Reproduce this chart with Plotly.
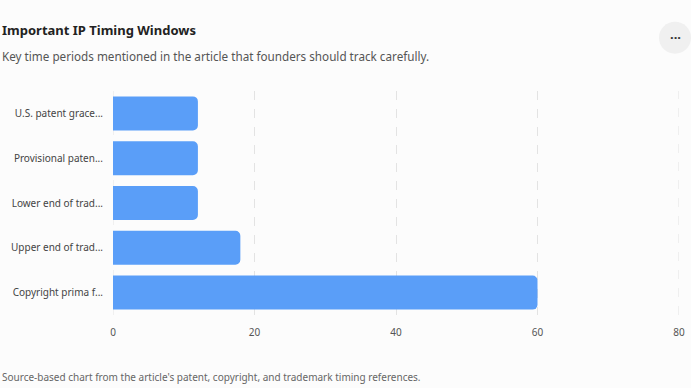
import plotly.graph_objects as go

categories = ["U.S. patent grace...", "Provisional paten...", "Lower end of trad...",
              "Upper end of trad...", "Copyright prima f..."]
values = [12, 12, 12, 18, 60]
x_ticks = [0, 20, 40, 60, 80]

W, H = 691, 388
L, R, T, B = 113, 12, 90.5, 72.5
pw, ph = W - L - R, H - T - B

def px(x):
    return (x - L) / pw

def py(y):
    return 1 - (y - T) / ph

FONT = "Noto Sans"
GRID = "#e3e3e3"

fig = go.Figure(go.Bar(
    x=values, y=categories, orientation="h",
    marker=dict(color="#5a9ef8", line=dict(width=0)),
    width=0.76, hoverinfo="x+y",
))

# edge gridlines (plotly clips gridlines lying on the plot edges)
edge_grid = [dict(type="line", xref="x", yref="paper", x0=v, x1=v, y0=0, y1=1,
                  line=dict(color=GRID, width=1, dash="dash"), layer="below")
             for v in (x_ticks[0], x_ticks[-1])]

fig.update_layout(
    width=W, height=H,
    margin=dict(l=L, r=R, t=T, b=B, autoexpand=False),
    paper_bgcolor="#fcfcfc", plot_bgcolor="#fcfcfc",
    barcornerradius=5,
    font=dict(family=FONT, color="#444"),
    showlegend=False,
    xaxis=dict(range=[0, 80], tickvals=x_ticks, showgrid=True, gridcolor=GRID,
               griddash="dash", gridwidth=1, zeroline=False, showline=False,
               tickfont=dict(size=10, color="#555"), ticks="", ticklen=0,
               automargin=False, ticklabelstandoff=10),
    yaxis=dict(autorange="reversed", showgrid=False, showline=False, ticks="",
               tickfont=dict(size=10, color="#444"), automargin=False,
               ticklabelstandoff=9),
    annotations=[
        dict(text="<b>Important IP Timing Windows</b>", x=px(0), y=py(29), xref="paper", yref="paper",
             xanchor="left", yanchor="middle", showarrow=False, font=dict(size=13, color="#222", family=FONT)),
        dict(text="Key time periods mentioned in the article that founders should track carefully.",
             x=px(0), y=py(55), xref="paper", yref="paper", xanchor="left", yanchor="middle",
             showarrow=False, font=dict(size=11.7, color="#555", family=FONT)),
        dict(text="Source-based chart from the article's patent, copyright, and trademark timing references.",
             x=px(0), y=py(378), xref="paper", yref="paper", xanchor="left", yanchor="middle",
             showarrow=False, font=dict(size=10, color="#666", family=FONT)),
        dict(text="<b>···</b>", x=px(675), y=py(36), xref="paper", yref="paper", xanchor="center", yanchor="middle",
             showarrow=False, font=dict(size=13, color="#333", family=FONT)),
    ],
    shapes=[
        dict(type="circle", xref="paper", yref="paper", x0=px(659), x1=px(691), y0=py(53), y1=py(21),
             fillcolor="#f0f0f0", line=dict(width=0), layer="below"),
    ] + edge_grid,
)

fig.write_html("out.html")
